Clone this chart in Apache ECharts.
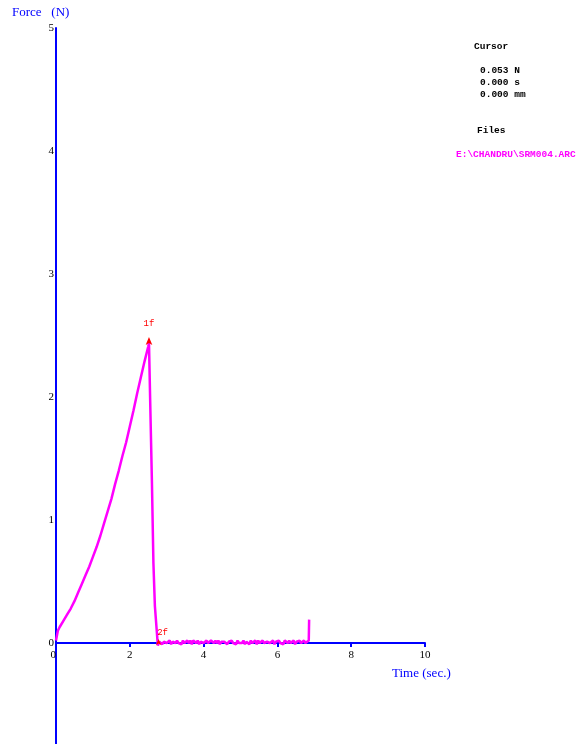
<!DOCTYPE html>
<html><head><meta charset="utf-8">
<script src="https://cdn.jsdelivr.net/npm/echarts@6/dist/echarts.min.js"></script>
<style>html,body{margin:0;padding:0;background:#fff}#c{width:579px;height:744px}</style>
</head><body><div id="c"></div>
<script>
// rising part of the force curve
const riseTime = [0,0.05,0.1,0.2,0.3,0.4,0.5,0.6,0.7,0.8,0.9,1.0,1.1,1.2,1.3,1.4,1.5,1.6,1.7,1.8,1.9,2.0,2.1,2.2,2.3,2.4,2.5,2.52];
const riseForce = [0.02,0.10,0.13,0.18,0.23,0.28,0.34,0.41,0.48,0.55,0.62,0.70,0.78,0.87,0.97,1.07,1.17,1.29,1.40,1.52,1.63,1.76,1.89,2.03,2.16,2.29,2.41,2.44];
// drop after break
const dropTime = [2.55,2.6,2.64,2.68,2.73,2.76];
const dropForce = [2.0,1.3,0.65,0.3,0.1,-0.02];
// residual (near zero) part
const tailStart = 2.8, tailStep = 0.04;
const tailForce = [0.01,0.02,-0.01,0.01,0.02,0.0,0.01,0.02,-0.01,0.01,0.02,0.0,0.02,0.0,0.01,-0.01,0.02,0.0,0.01,0.02,
  0.0,0.02,-0.01,0.02,0.01,0.0,0.02,-0.01,0.01,0.02,0.0,0.01,0.02,0.0,-0.01,0.02,0.01,0.0,0.02,0.0,
  0.02,-0.01,0.01,0.0,0.01,0.02,-0.01,0.01,0.0,0.02,0.0,0.01,-0.01,0.02,0.0,0.01,0.0,0.02,-0.01,0.01,
  0.01,-0.01,0.02,0.0,0.01,0.02,-0.01,0.02,0.0,0.01,0.02,0.0,-0.01,0.01,0.02,0.0,0.01,0.02,-0.01,0.01,
  0.0,0.02,0.0,0.01,-0.01,0.02,0.01,0.0,0.02,0.0,0.01,0.02,-0.01,0.01,0.0,0.02,0.0,0.01,0.02,0.0];
const endTime = [6.85,6.86];
const endForce = [0.02,0.19];
const xTicks = [0,2,4,6,8,10];
const yTicks = [0,1,2,3,4,5];
const peak = [2.52,2.44];
const breakPt = [2.78,0.0];

const data = [];
riseTime.forEach((t,i)=>data.push([t,riseForce[i]]));
dropTime.forEach((t,i)=>data.push([t,dropForce[i]]));
tailForce.forEach((f,i)=>data.push([+(tailStart+i*tailStep).toFixed(3),f]));
endTime.forEach((t,i)=>data.push([t,endForce[i]]));

const mono = '"Liberation Mono", monospace';
const serif = '"Liberation Serif", "DejaVu Serif", serif';
const chart = echarts.init(document.getElementById('c'));
chart.setOption({
  animation:false,
  backgroundColor:'#fff',
  grid:[
    {left:56,top:28,width:369,height:615,outerBoundsMode:'none'},
    {left:56,top:643,width:369,height:123,outerBoundsMode:'none'}
  ],
  xAxis:[{type:'value',gridIndex:0,min:0,max:10,interval:2,
    axisLine:{lineStyle:{color:'#0000ff',width:2}},
    axisTick:{show:true,length:4,lineStyle:{color:'#0000ff',width:2}},
    axisLabel:{color:'#000',fontFamily:serif,fontSize:11,margin:7,alignMinLabel:'right',
      formatter:v=>xTicks.includes(v)?String(v):''},
    splitLine:{show:false}},
    {type:'value',gridIndex:1,min:0,max:10,show:false}],
  yAxis:[{type:'value',gridIndex:0,min:0,max:5,interval:1,
    axisLine:{show:true,lineStyle:{color:'#0000ff',width:2}},
    axisTick:{show:false},
    axisLabel:{color:'#000',fontFamily:serif,fontSize:11,margin:2,
      formatter:v=>yTicks.includes(v)?String(v):''},
    splitLine:{show:false}},
    {type:'value',gridIndex:1,min:-1,max:0,interval:1,
    axisLine:{show:true,lineStyle:{color:'#0000ff',width:2}},
    axisTick:{show:false},axisLabel:{show:false},splitLine:{show:false}}],
  series:[{
    type:'line',xAxisIndex:0,yAxisIndex:0,data:data,showSymbol:false,clip:false,
    lineStyle:{color:'#ff00ff',width:2.5},
    markPoint:{
      symbol:'arrow',symbolSize:[5,8],symbolOffset:[0,-6],
      itemStyle:{color:'#ff0000'},
      label:{show:true,position:'top',distance:2,color:'#ff0000',fontFamily:mono,fontSize:9},
      data:[
        {coord:peak,value:'1f',label:{formatter:'1f',offset:[0,-7]}},
        {coord:breakPt,value:'2f',symbolSize:[4,6],symbolOffset:[0,-4],label:{formatter:'2f',offset:[4,0]}}
      ]
    }
  }],
  graphic:[
    {type:'text',left:12,top:6,style:{text:'Force   (N)',fill:'#0000ff',font:'13px '+serif}},
    {type:'text',left:392,top:667,style:{text:'Time (sec.)',fill:'#0000ff',font:'13px '+serif}},
    {type:'text',left:474,top:42,style:{text:'Cursor',fill:'#000',font:'bold 9.5px '+mono}},
    {type:'text',left:480,top:65,style:{text:'0.053 N\n0.000 s\n0.000 mm',fill:'#000',font:'bold 9.5px '+mono,lineHeight:12}},
    {type:'text',left:477,top:126,style:{text:'Files',fill:'#000',font:'bold 9.5px '+mono}},
    {type:'text',left:456,top:150,style:{text:'E:\\CHANDRU\\SRM004.ARC',fill:'#ff00ff',font:'bold 9.5px '+mono}}
  ]
});
</script></body></html>
